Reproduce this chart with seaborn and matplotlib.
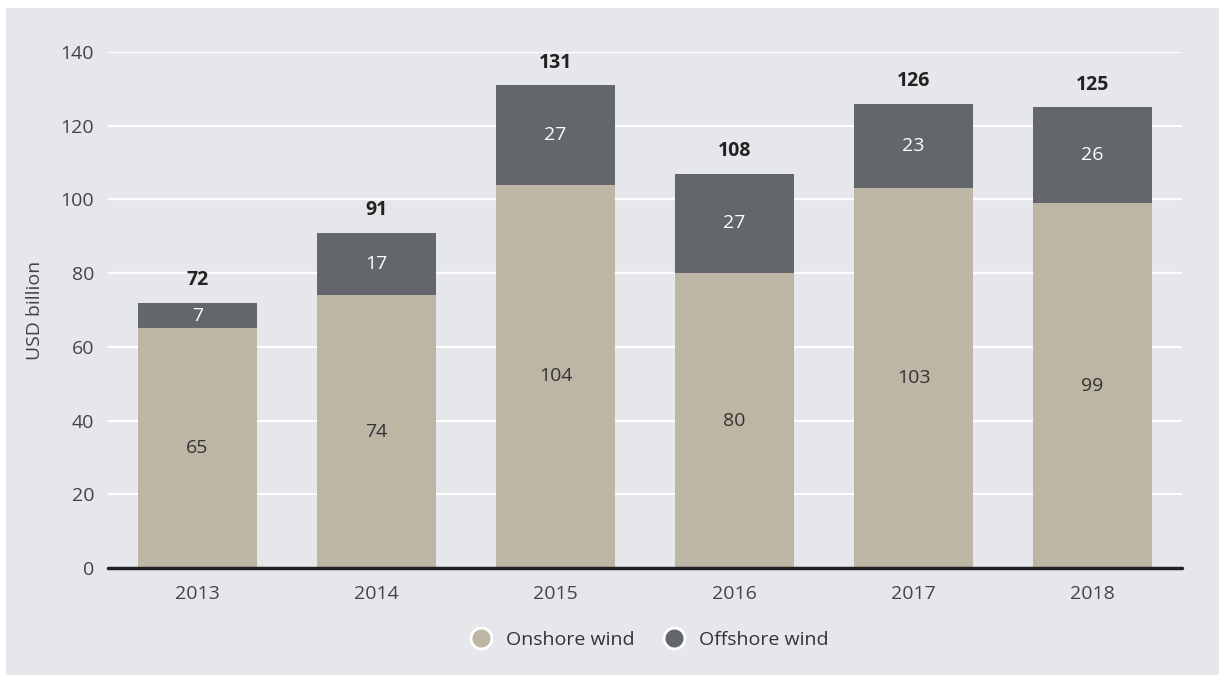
import matplotlib
matplotlib.use("Agg")
import matplotlib.pyplot as plt
from matplotlib.lines import Line2D
from matplotlib.patches import Rectangle
import pandas as pd
import seaborn as sns

# Chart data
years = ["2013", "2014", "2015", "2016", "2017", "2018"]
onshore = [65, 74, 104, 80, 103, 99]
offshore = [7, 17, 27, 27, 23, 26]
totals = [72, 91, 131, 108, 126, 125]

ONSHORE_COLOR = "#BDB6A5"
OFFSHORE_COLOR = "#63666A"
BG_COLOR = "#E6E7EB"
TEXT_COLOR = "#444444"
FS = 14

sns.set_theme(style="white")
plt.rcParams["font.family"] = ["Open Sans", "DejaVu Sans"]

df = pd.DataFrame({"year": years, "onshore": onshore, "offshore": offshore, "total": totals})

fig = plt.figure(figsize=(12.19, 6.75), dpi=100, facecolor="white")
# grey panel (small white margin at top and left)
fig.patches.append(Rectangle((6 / 1219, 0), 1, 1 - 8 / 675, transform=fig.transFigure,
                             facecolor=BG_COLOR, edgecolor="none", zorder=-10))

ax = fig.add_axes([108 / 1219, 1 - 568 / 675, 1074 / 1219, 516 / 675])
ax.set_facecolor(BG_COLOR)

sns.barplot(data=df, x="year", y="onshore", color=ONSHORE_COLOR, width=0.67,
            saturation=1, linewidth=0, ax=ax, zorder=3)
sns.barplot(data=df, x="year", y="offshore", color=OFFSHORE_COLOR, width=0.67,
            saturation=1, linewidth=0, bottom=df["onshore"], ax=ax, zorder=3)

# segment labels
for i, row in df.iterrows():
    ax.text(i, row["onshore"] / 2, str(row["onshore"]), ha="center", va="center",
            fontsize=FS, color="#333333", zorder=5)
    ax.text(i, row["onshore"] + row["offshore"] / 2, str(row["offshore"]), ha="center",
            va="center", fontsize=FS, color="white", zorder=5)
    ax.text(i, row["onshore"] + row["offshore"] + 3.3, str(row["total"]), ha="center",
            va="bottom", fontsize=FS, color="#222222", fontweight="bold", zorder=5)

ax.set_ylim(0, 140)
ax.set_xlim(-0.5, 5.5)
ax.set_yticks(range(0, 141, 20))
ax.yaxis.grid(True, color="white", linewidth=1.5, zorder=0)
ax.set_axisbelow(True)
ax.axhline(0, color="#222222", linewidth=2.5, zorder=6, clip_on=False)
for s in ax.spines.values():
    s.set_visible(False)
ax.tick_params(axis="both", length=0, labelsize=FS, labelcolor=TEXT_COLOR)
ax.tick_params(axis="x", pad=12)
ax.tick_params(axis="y", pad=10)
ax.set_xlabel("")
ax.set_ylabel("USD billion", fontsize=FS, color=TEXT_COLOR, labelpad=12)

handles = [
    Line2D([], [], marker="o", linestyle="none", markersize=15, markerfacecolor=ONSHORE_COLOR,
           markeredgecolor="white", markeredgewidth=2, label="Onshore wind"),
    Line2D([], [], marker="o", linestyle="none", markersize=15, markerfacecolor=OFFSHORE_COLOR,
           markeredgecolor="white", markeredgewidth=2, label="Offshore wind"),
]
fig.legend(handles=handles, loc="center", bbox_to_anchor=(645 / 1219, 1 - 640 / 675),
           ncol=2, frameon=False, fontsize=FS, labelcolor="#333333",
           handletextpad=0.3, columnspacing=1.0)

fig.savefig("out.png", dpi=100, facecolor="white")
